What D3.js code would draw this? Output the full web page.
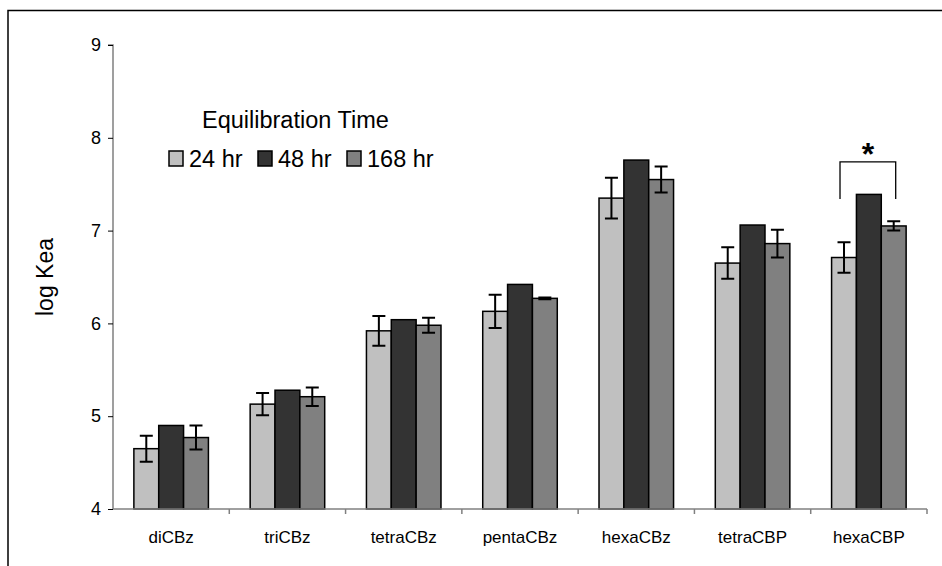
<!DOCTYPE html>
<html>
<head>
<meta charset="utf-8">
<script src="https://cdn.jsdelivr.net/npm/d3@7"></script>
<style>
  html, body { margin: 0; padding: 0; background: #fff; }
  svg { display: block; font-family: "Liberation Sans", Arial, sans-serif; }
</style>
</head>
<body>
<svg id="chart" width="942" height="566"></svg>
<script>
// Compounds on the x axis
const categories = ["diCBz", "triCBz", "tetraCBz", "pentaCBz", "hexaCBz", "tetraCBP", "hexaCBP"];
// Equilibration times (series)
const seriesNames = ["24 hr", "48 hr", "168 hr"];
const seriesColors = ["#c0c0c0", "#333333", "#808080"];
// Mean log Kea per series
const values24 = [4.65, 5.13, 5.92, 6.13, 7.35, 6.65, 6.71];
const values48 = [4.90, 5.28, 6.04, 6.42, 7.76, 7.06, 7.39];
const values168 = [4.77, 5.21, 5.98, 6.27, 7.55, 6.86, 7.05];
// Error bar half-widths (null = no error bar)
const err24 = [0.14, 0.12, 0.16, 0.18, 0.22, 0.17, 0.165];
const err48 = [null, null, null, null, null, null, null];
const err168 = [0.13, 0.10, 0.08, 0.01, 0.14, 0.15, 0.05];
// Y axis ticks
const yTicks = [4, 5, 6, 7, 8, 9];
// Significance bracket on hexaCBP between 24 hr and 168 hr
const bracket = { category: "hexaCBP", from: 0, to: 2, top: 7.74, bottom: 7.34, label: "*" };

const series = [values24, values48, values168];
const errors = [err24, err48, err168];

const svg = d3.select("#chart");
const margin = { left: 113, right: 15, top: 45, bottom: 57 };
const W = 942, H = 566;

// Outer frame (top and left edges)
svg.append("path")
  .attr("d", `M8,566 L8,10.5 L942,10.5`)
  .attr("fill", "none").attr("stroke", "#000").attr("stroke-width", 1.5);

const x = d3.scaleBand().domain(categories).range([margin.left, W - margin.right]).paddingInner(0).paddingOuter(0);
const xs = d3.scaleBand().domain(d3.range(seriesNames.length)).range([0, x.bandwidth()]).paddingInner(0).paddingOuter(0.84);
const y = d3.scaleLinear().domain([4, 9]).range([H - margin.bottom, margin.top]);

// Bars
categories.forEach((c, i) => {
  const g = svg.append("g").attr("transform", `translate(${x(c)},0)`);
  series.forEach((vals, s) => {
    g.append("rect")
      .attr("x", xs(s))
      .attr("y", y(vals[i]))
      .attr("width", xs.bandwidth())
      .attr("height", y(4) - y(vals[i]))
      .attr("fill", seriesColors[s])
      .attr("stroke", "#000")
      .attr("stroke-width", 1.5);
  });
  // Error bars
  series.forEach((vals, s) => {
    const e = errors[s][i];
    if (e == null) return;
    const cx = xs(s) + xs.bandwidth() / 2;
    const cap = 6.5;
    const y1 = y(vals[i] + e), y2 = y(vals[i] - e);
    const p = `M${cx - cap},${y1} H${cx + cap} M${cx},${y1} V${y2} M${cx - cap},${y2} H${cx + cap}`;
    g.append("path").attr("d", p).attr("fill", "none").attr("stroke", "#000").attr("stroke-width", 2);
  });
});

// Y axis
const yAxis = d3.axisLeft(y).tickValues(yTicks).tickSize(5).tickPadding(7).tickFormat(d3.format("d"));
const yg = svg.append("g").attr("transform", `translate(${margin.left},0)`).call(yAxis);
yg.select(".domain").attr("stroke", "#808080").attr("stroke-width", 1.5).attr("d", `M-5,${y(9)}H0V${y(4)}`);
yg.selectAll(".tick line").attr("stroke", "#000");
yg.selectAll(".tick text").attr("font-size", 18).attr("fill", "#000").attr("font-family", "Liberation Sans, Arial, sans-serif");

// X axis: baseline with ticks at category boundaries
const xg = svg.append("g").attr("transform", `translate(0,${y(4)})`);
xg.append("line").attr("x1", margin.left).attr("x2", W - margin.right).attr("y1", 0).attr("y2", 0)
  .attr("stroke", "#808080").attr("stroke-width", 1.5);
categories.forEach(c => {
  xg.append("line").attr("x1", x(c) + x.bandwidth()).attr("x2", x(c) + x.bandwidth())
    .attr("y1", 0).attr("y2", 5).attr("stroke", "#808080").attr("stroke-width", 1.5);
  xg.append("text").attr("x", x(c) + x.bandwidth() / 2).attr("y", 34)
    .attr("text-anchor", "middle").attr("font-size", 17).attr("fill", "#000").text(c);
});

// Y axis title
svg.append("text")
  .attr("transform", `translate(53,${(y(4) + y(9)) / 2}) rotate(-90)`)
  .attr("text-anchor", "middle").attr("font-size", 23).attr("fill", "#000")
  .text("log Kea");

// Legend
const legend = svg.append("g").attr("transform", "translate(169,0)");
legend.append("text").attr("x", 33).attr("y", 128).attr("font-size", 23.5).attr("fill", "#000").text("Equilibration Time");
const legendX = [0, 89, 178];
seriesNames.forEach((n, s) => {
  legend.append("rect").attr("x", legendX[s]).attr("y", 151).attr("width", 14).attr("height", 15)
    .attr("fill", seriesColors[s]).attr("stroke", "#000").attr("stroke-width", 1.5);
  legend.append("text").attr("x", legendX[s] + 20).attr("y", 167).attr("font-size", 23.5).attr("fill", "#000").text(n);
});

// Significance bracket
const bx0 = x(bracket.category) + xs(bracket.from) + xs.bandwidth() / 2 - 4;
const bx1 = x(bracket.category) + xs(bracket.to) + xs.bandwidth() / 2 + 2;
svg.append("path")
  .attr("d", `M${bx0},${y(bracket.bottom)} V${y(bracket.top)} H${bx1} V${y(bracket.bottom)}`)
  .attr("fill", "none").attr("stroke", "#000").attr("stroke-width", 1.3);
svg.append("text").attr("x", (bx0 + bx1) / 2).attr("y", y(bracket.top) + 3)
  .attr("text-anchor", "middle").attr("font-size", 32).attr("font-weight", "bold").attr("fill", "#000")
  .text(bracket.label);
</script>
</body>
</html>
